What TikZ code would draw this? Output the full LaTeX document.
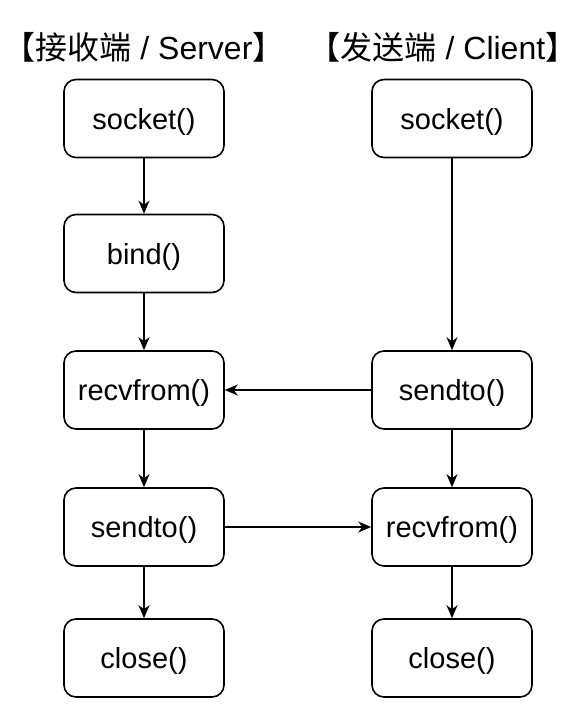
\documentclass[tikz,border=0pt]{standalone}
\usepackage{fontspec}
\setmainfont{Liberation Sans}
\newfontfamily\cjkfont{Noto Sans CJK SC}
\usetikzlibrary{arrows.meta}
\begin{document}
\begin{tikzpicture}[x=1pt,y=-1pt,
  box/.style={draw=black, line width=1.6pt, rounded corners=12pt, minimum width=160pt, minimum height=78pt, inner sep=0pt, font=\fontsize{29}{32}\selectfont, text height=21pt, text depth=0pt, fill=white},
  title/.style={font=\fontsize{32}{35}\selectfont, inner sep=0pt},
  arr/.style={line width=1.4pt, -{Stealth[length=13pt, width=11pt, inset=4pt]}}]
\useasboundingbox (0,0) rectangle (581,712);
\node[title] (tl) at (144,47) {{\cjkfont 【接收端} / Server{\cjkfont 】}};
\node[title] (tr) at (443,47) {{\cjkfont 【发送端} / Client{\cjkfont 】}};
\node[box] (ls) at (144,118.5) {socket()};
\node[box] (lb) at (144,253.5) {bind()};
\node[box] (lr) at (144,390) {recvfrom()};
\node[box] (ld) at (144,527) {sendto()};
\node[box] (lc) at (144,658) {close()};
\node[box] (rs) at (452,118.5) {socket()};
\node[box] (rd) at (452,390) {sendto()};
\node[box] (rr) at (452,527) {recvfrom()};
\node[box] (rc) at (452,658) {close()};
\draw[arr] (ls) -- (lb);
\draw[arr] (lb) -- (lr);
\draw[arr] (lr) -- (ld);
\draw[arr] (ld) -- (lc);
\draw[arr] (rs) -- (rd);
\draw[arr] (rd) -- (rr);
\draw[arr] (rr) -- (rc);
\draw[arr] (rd) -- (lr);
\draw[arr] (ld) -- (rr);
\end{tikzpicture}
\end{document}
